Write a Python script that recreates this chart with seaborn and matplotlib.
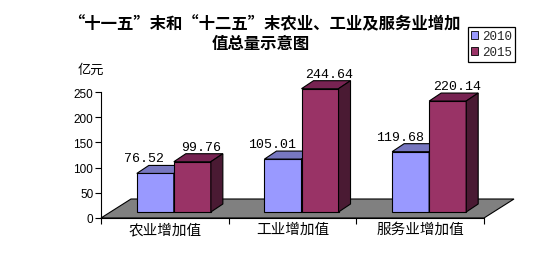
import numpy as np
import pandas as pd
import matplotlib
matplotlib.use("Agg")
import matplotlib.pyplot as plt
import seaborn as sns
from matplotlib.patches import Polygon, Patch
from matplotlib.transforms import Affine2D, IdentityTransform

# ---- data ----
categories = ["农业增加值", "工业增加值", "服务业增加值"]
years = ["2010", "2015"]
values_2010 = [76.52, 105.01, 119.68]
values_2015 = [99.76, 244.64, 220.14]
yticks = [0, 50, 100, 150, 200, 250]
title_lines = ["“十一五”末和“十二五”末农业、工业及服务业增加", "值总量示意图"]
unit = "亿元"

df = pd.DataFrame({
    "cat": categories * 2,
    "year": [years[0]] * len(values_2010) + [years[1]] * len(values_2015),
    "value": values_2010 + values_2015,
})

sns.set_theme(style="white")
plt.rcParams["font.family"] = ["Noto Sans CJK SC", "DejaVu Sans"]

W, H = 554, 255
fig = plt.figure(figsize=(W / 100, H / 100), dpi=100)
fig.patch.set_facecolor("white")
ax = fig.add_axes([101 / W, 36 / H, 383 / W, 126 / H])
ax.set_facecolor("none")

front = {"2010": "#9999FF", "2015": "#993366"}
topc = {"2010": "#7777C0", "2015": "#772352"}
sidec = {"2010": "#4D4D80", "2015": "#4A1A33"}

sns.barplot(data=df, x="cat", y="value", hue="year", order=categories,
            hue_order=years, palette=front, width=0.58, edgecolor="black",
            linewidth=0.8, ax=ax, legend=False, saturation=1)
ax.set_xlim(-0.5, 2.5)
ax.set_ylim(0, 250)
ax.set_xlabel("")
ax.set_ylabel("")

# 3D-like decorations (derived from axes / bar geometry)
SX, SY = 9, 6        # bar plane shift (pixels)
DX, DY = 12, 8       # bar depth
FX, FY = 30, 19      # floor depth
off = Affine2D().translate(SX, SY)
tr = ax.transData + off

# floor
(xa, ya) = ax.transData.transform((-0.5, 0))
(xb, _) = ax.transData.transform((2.5, 0))
floor = Polygon([(xa, ya), (xb, ya), (xb + FX, ya + FY), (xa + FX, ya + FY)],
                closed=True, facecolor="#808080", edgecolor="black",
                linewidth=0.8, transform=IdentityTransform(), zorder=1,
                clip_on=False)
ax.add_artist(floor)

n = len(categories)
for i, p in enumerate(ax.patches[: 2 * n]):
    yr = years[i // n]
    z = 3 if yr == "2010" else 4
    p.set_transform(tr)
    p.set_zorder(z)
    p.set_clip_on(False)
    x0, y0 = tr.transform((p.get_x(), 0))
    x1, y1 = tr.transform((p.get_x() + p.get_width(), p.get_height()))
    top = Polygon([(x0, y1), (x1, y1), (x1 + DX, y1 + DY), (x0 + DX, y1 + DY)],
                  closed=True, facecolor=topc[yr], edgecolor="black",
                  linewidth=0.8, transform=IdentityTransform(), zorder=z,
                  clip_on=False)
    side = Polygon([(x1, y0), (x1 + DX, y0 + DY), (x1 + DX, y1 + DY), (x1, y1)],
                   closed=True, facecolor=sidec[yr], edgecolor="black",
                   linewidth=0.8, transform=IdentityTransform(), zorder=z,
                   clip_on=False)
    ax.add_artist(top)
    ax.add_artist(side)
    val = p.get_height()
    lx = -2 if yr == "2010" else 18
    ax.annotate(f"{val:.2f}", xy=(p.get_x() + p.get_width() / 2, val),
                xytext=(lx, SY + 9), textcoords="offset pixels",
                ha="center", va="bottom", fontsize=9.5,
                family="Liberation Mono", color="black", zorder=6,
                annotation_clip=False)

# axes styling
for s in ["top", "right"]:
    ax.spines[s].set_visible(False)
for s in ["left", "bottom"]:
    ax.spines[s].set_color("black")
    ax.spines[s].set_linewidth(0.8)
    ax.spines[s].set_zorder(2)

ax.set_yticks(yticks)
ax.set_yticklabels([str(t) for t in yticks], family="Liberation Sans", fontsize=8.5)
ax.tick_params(axis="y", which="major", left=True, direction="out", length=4,
               width=0.8, color="black", pad=1.5, labelcolor="black")
ax.set_xticks(range(n))
ax.set_xticklabels(categories, fontsize=10.5)
ax.tick_params(axis="x", which="major", length=0, pad=3, labelcolor="black")
ax.set_xticks([-0.5, 0.5, 1.5, 2.5], minor=True)
ax.tick_params(axis="x", which="minor", bottom=True, direction="out",
               length=4, width=0.8, color="black")

# unit and title
fig.text(91 / W, 1 - 70 / H, unit, ha="center", va="center", fontsize=9.5,
         color="black")
fig.text(264 / W, 1 - 24 / H, title_lines[0], ha="center", va="center",
         fontsize=11.8, fontweight="bold", color="black")
fig.text(261 / W, 1 - 44 / H, title_lines[1], ha="center", va="center",
         fontsize=11.8, fontweight="bold", color="black")

# legend
handles = [Patch(facecolor=front[y], edgecolor="black", linewidth=0.6) for y in years]
leg = fig.legend(handles=handles, labels=years, loc="upper right",
                 bbox_to_anchor=(515 / W, 1 - 28 / H), frameon=True,
                 fancybox=False, framealpha=1, edgecolor="black",
                 prop={"family": "Liberation Mono", "size": 9},
                 handlelength=0.6, handleheight=0.6, handletextpad=0.3,
                 borderpad=0.25, labelspacing=0.35, borderaxespad=0)
leg.get_frame().set_linewidth(0.9)

fig.savefig("out.png", dpi=100)
